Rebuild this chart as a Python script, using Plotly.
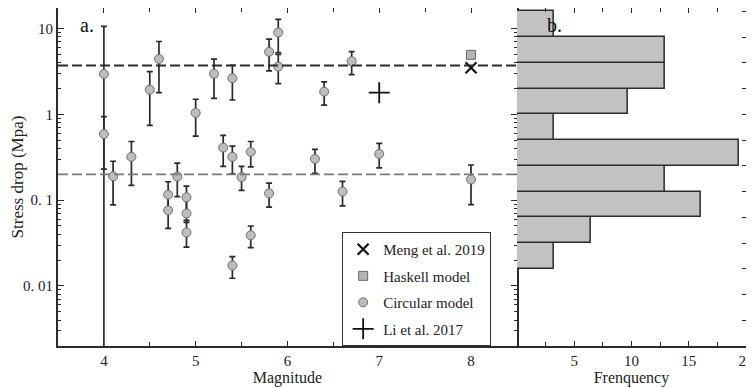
import plotly.graph_objects as go

# ---------------- data ----------------
circ_mag = [4.0, 4.0, 4.1, 4.3, 4.5, 4.6, 4.7, 4.7, 4.8, 4.9, 4.9, 4.9, 5.0, 5.2, 5.3, 5.4,
            5.4, 5.4, 5.5, 5.6, 5.6, 5.8, 5.8, 5.9, 5.9, 6.3, 6.4, 6.6, 6.7, 7.0, 8.0]
circ_sd = [2.96, 0.59, 0.19, 0.32, 1.94, 4.43, 0.116, 0.076, 0.188, 0.108, 0.070, 0.042,
           1.04, 2.98, 0.41, 2.64, 0.32, 0.0173, 0.186, 0.365, 0.039, 5.35, 0.12, 9.0,
           3.6, 0.303, 1.84, 0.126, 4.17, 0.346, 0.174]
circ_hi = [10.6, 0.94, 0.284, 0.483, 3.15, 7.07, 0.164, 0.11, 0.27, 0.146, 0.10, 0.058,
           1.50, 4.40, 0.568, 3.74, 0.426, 0.022, 0.248, 0.483, 0.050, 7.54, 0.158, 12.8,
           5.0, 0.39, 2.39, 0.166, 5.4, 0.458, 0.257]
circ_lo = [0.001, 0.23, 0.088, 0.149, 0.743, 1.79, 0.08, 0.047, 0.11, 0.075, 0.055, 0.0283,
           0.557, 1.54, 0.248, 1.47, 0.202, 0.0123, 0.130, 0.244, 0.028, 3.21, 0.083, 5.25,
           2.28, 0.206, 1.28, 0.086, 2.9, 0.238, 0.0886]

haskell_mag = [8.0]
haskell_sd = [4.94]
haskell_hi = [5.3]
haskell_lo = [4.6]

meng_mag = [8.0]
meng_sd = [3.5]

li_mag = [7.0]
li_sd = [1.79]

upper_ref = 3.72
lower_ref = 0.2

# histogram (bins in log10 stress drop, width 0.3 decade)
hist_bin_center = [-1.65, -1.35, -1.05, -0.75, -0.45, -0.15, 0.15, 0.45, 0.75, 1.05]
hist_freq = [3.2, 6.5, 16.1, 12.9, 19.4, 3.2, 9.7, 12.9, 12.9, 3.2]
hist_bin_width = 0.3

y_ticks = [0.01, 0.1, 1, 10]
y_ticktext = ["0. 01", "0. 1", "1", "10"]

# ---------------- figure ----------------
FONT = "Times New Roman, Liberation Serif, Tinos, DejaVu Serif, serif"
AX = "#2b2b2b"
Y_TOP = 1.24  # log10 of top of stress-drop axis
Y_BOT = -2.7

fig = go.Figure()

fig.add_trace(go.Scatter(
    x=meng_mag, y=meng_sd, mode="markers", name="Meng et al. 2019",
    legendgroup="a",
    marker=dict(symbol="x-thin-open", size=11, color="#111", line=dict(width=2.2, color="#111")),
    xaxis="x", yaxis="y"))

fig.add_trace(go.Scatter(
    x=haskell_mag, y=haskell_sd, mode="markers", name="Haskell model",
    legendgroup="b",
    marker=dict(symbol="square", size=9, color="#b5b5b5", line=dict(width=1, color="#6a6a6a")),
    error_y=dict(type="data", symmetric=False,
                 array=[h - s for h, s in zip(haskell_hi, haskell_sd)],
                 arrayminus=[s - l for s, l in zip(haskell_sd, haskell_lo)],
                 color="#333", thickness=1.5, width=3),
    xaxis="x", yaxis="y"))

fig.add_trace(go.Scatter(
    x=circ_mag, y=circ_sd, mode="markers", name="Circular model",
    legendgroup="c",
    marker=dict(symbol="circle", size=9, color="#bdbdbd", line=dict(width=1, color="#6e6e6e")),
    error_y=dict(type="data", symmetric=False,
                 array=[h - s for h, s in zip(circ_hi, circ_sd)],
                 arrayminus=[s - l for s, l in zip(circ_sd, circ_lo)],
                 color="#2a2a2a", thickness=1.7, width=3),
    xaxis="x", yaxis="y"))

fig.add_trace(go.Scatter(
    x=li_mag, y=li_sd, mode="markers", name="Li et al. 2017",
    legendgroup="d",
    marker=dict(symbol="cross-thin-open", size=15, color="#111", line=dict(width=1.8, color="#111")),
    xaxis="x", yaxis="y"))

fig.add_trace(go.Bar(
    y=hist_bin_center, x=hist_freq, orientation="h", width=hist_bin_width,
    marker=dict(color="#c2c2c2", line=dict(color="#2b2b2b", width=1.5)),
    showlegend=False, xaxis="x2", yaxis="y2"))

# reference dashed lines
fig.add_shape(type="line", xref="x domain", yref="y", x0=0, x1=1, y0=upper_ref, y1=upper_ref,
              line=dict(color="#2b2b2b", width=2, dash="10px,4px"))
fig.add_shape(type="line", xref="x domain", yref="y", x0=0, x1=1, y0=lower_ref, y1=lower_ref,
              line=dict(color="#7a7a7a", width=1.8, dash="10px,4px"))

minor_log = [m * 10 ** e for e in range(-3, 2) for m in range(2, 10)]

# the page body adds an 8px margin, so the figure is sized 8px smaller
fig.update_layout(
    width=746, height=380,
    margin=dict(l=50, r=8, t=0, b=42, autoexpand=False),
    paper_bgcolor="white", plot_bgcolor="white",
    font=dict(family=FONT, size=15, color="#222"),
    bargap=0,
    showlegend=True,
    legend=dict(x=0.413, y=0.337, xanchor="left", yanchor="top",
                bordercolor="#333", borderwidth=1, bgcolor="white",
                font=dict(family=FONT, size=15, color="#222"),
                traceorder="grouped", tracegroupgap=4),
    xaxis=dict(domain=[0, 0.667], range=[3.5, 8.5], tickvals=[4, 5, 6, 7, 8],
               ticks="inside", ticklen=5, tickwidth=1.2, tickcolor=AX,
               minor=dict(tickvals=[4.5, 5.5, 6.5, 7.5], ticks="inside", ticklen=4,
                          tickcolor=AX, showgrid=False),
               showline=True, linecolor=AX, linewidth=2, mirror="allticks",
               showgrid=False, zeroline=False, automargin=False,
               title=dict(text="Magnitude", font=dict(family=FONT, size=16), standoff=3),
               tickfont=dict(family=FONT, size=15)),
    yaxis=dict(type="log", range=[Y_BOT, Y_TOP], tickvals=y_ticks, ticktext=y_ticktext,
               ticks="inside", ticklen=6, tickwidth=1.2, tickcolor=AX,
               minor=dict(tickvals=minor_log, ticks="inside", ticklen=3, tickcolor=AX,
                          showgrid=False),
               showline=True, linecolor=AX, linewidth=2, mirror="allticks",
               showgrid=False, zeroline=False, automargin=False,
               title=dict(text="Stress drop (Mpa)", font=dict(family=FONT, size=17), standoff=6),
               tickfont=dict(family=FONT, size=15)),
    xaxis2=dict(domain=[0.667, 1], range=[0, 20], anchor="y2",
                tickvals=[0, 5, 10, 15, 20], ticktext=["", "5", "10", "15", "20"],
                ticks="inside", ticklen=5, tickwidth=1.2, tickcolor=AX,
                minor=dict(tickvals=[2.5, 7.5, 12.5, 17.5], ticks="inside", ticklen=4,
                           tickcolor=AX, showgrid=False),
                showline=True, linecolor=AX, linewidth=2, mirror="allticks",
                showgrid=False, zeroline=False, automargin=False,
                ticklabeloverflow="allow",
                title=dict(text="Frenquency", font=dict(family=FONT, size=16), standoff=3),
                tickfont=dict(family=FONT, size=15)),
    yaxis2=dict(anchor="x2", range=[Y_BOT, Y_TOP], side="right",
                tickvals=[-2.4, -2.1, -1.8, -1.5, -1.2, -0.9, -0.6, -0.3, 0, 0.3, 0.6, 0.9, 1.2],
                ticks="inside", ticklen=4, tickwidth=1.2, tickcolor=AX,
                showticklabels=False, automargin=False,
                showline=True, linecolor=AX, linewidth=2, mirror=False,
                showgrid=False, zeroline=False),
    annotations=[
        dict(text="a.", xref="paper", yref="paper", x=0.029, y=0.95, xanchor="left",
             yanchor="middle", showarrow=False, font=dict(family=FONT, size=20, color="#111")),
        dict(text="b.", xref="paper", yref="paper", x=0.708, y=0.95, xanchor="left",
             yanchor="middle", showarrow=False, font=dict(family=FONT, size=20, color="#111")),
    ],
)

fig.write_html("out.html")
